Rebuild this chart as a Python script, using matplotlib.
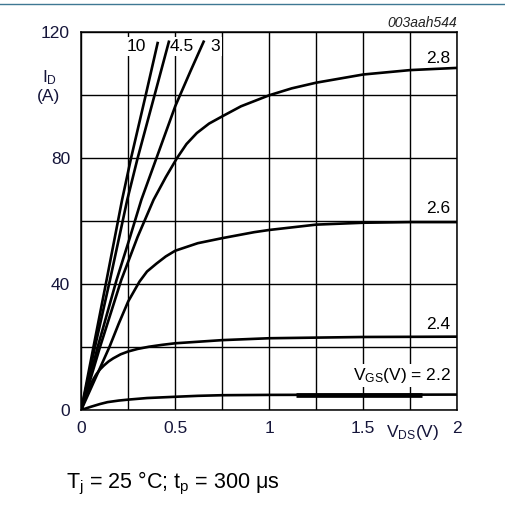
import numpy as np
import matplotlib
matplotlib.use('Agg')
import matplotlib.pyplot as plt
from matplotlib.lines import Line2D

plt.rcParams['font.family'] = ['Liberation Sans', 'DejaVu Sans']
plt.rcParams['mathtext.default'] = 'regular'

# output characteristics, I_D (A) vs V_DS (V)
vds_10 = [0, 0.07, 0.135, 0.2175, 0.265, 0.343, 0.408]
id_10 = [0, 21.5, 41.3, 66.8, 80, 100, 117]

vds_45 = [0, 0.075, 0.153, 0.245, 0.30, 0.39, 0.468]
id_45 = [0, 20.5, 41.3, 66.8, 80, 100, 117.4]

vds_3 = [0, 0.09, 0.188, 0.26, 0.32, 0.40, 0.50, 0.58, 0.654]
id_3 = [0, 20.5, 41.3, 55, 66.8, 80, 96.5, 107.5, 117.4]

vds_28 = [0, 0.1, 0.213, 0.30, 0.385, 0.45, 0.509, 0.56, 0.615, 0.68, 0.75, 0.85, 1.0, 1.12,
          1.25, 1.5, 1.75, 2.0]
id_28 = [0, 20, 41.3, 55, 66.8, 74, 80, 84.5, 88, 91, 93.3, 96.5, 100, 102.2,
         104, 106.6, 108, 108.7]

vds_26 = [0, 0.075, 0.15, 0.2, 0.25, 0.31, 0.35, 0.40, 0.45, 0.5, 0.62, 0.75, 0.92, 1.0, 1.25,
          1.5, 1.75, 2.0]
id_26 = [0, 10, 20, 27.5, 34.5, 40.8, 44, 46.5, 48.8, 50.6, 53, 54.6, 56.5, 57.2, 58.9,
         59.5, 59.7, 59.7]

vds_24 = [0, 0.02, 0.04, 0.06, 0.08, 0.1, 0.12, 0.145, 0.17, 0.21, 0.25, 0.3, 0.36, 0.43, 0.5,
          0.75, 1.0, 1.5, 2.0]
id_24 = [0, 3.5, 6.7, 9.3, 11.3, 12.9, 14.1, 15.4, 16.4, 17.7, 18.6, 19.4, 20.1, 20.7, 21.2,
         22.2, 22.8, 23.2, 23.3]

vds_22 = [0, 0.05, 0.1, 0.14, 0.2, 0.25, 0.35, 0.5, 0.62, 0.75, 1.0, 2.0]
id_22 = [0, 1.0, 1.9, 2.5, 3.0, 3.3, 3.8, 4.2, 4.5, 4.7, 4.8, 4.9]

# heavier stretch drawn on the 2.2 V curve in the original
vds_22_thick = [1.14, 1.81]
id_22_thick = [4.85, 4.85]

curves = [(vds_10, id_10), (vds_45, id_45), (vds_3, id_3), (vds_28, id_28),
          (vds_26, id_26), (vds_24, id_24), (vds_22, id_22)]

x_ticks = [0, 0.25, 0.5, 0.75, 1, 1.25, 1.5, 1.75, 2]
x_ticklabels = ['0', '', '0.5', '', '1', '', '1.5', '', '2']
y_ticks = [0, 20, 40, 60, 80, 100, 120]
y_ticklabels = ['0', '', '40', '', '80', '', '120']

tick_col = '#15153a'
fs = 12.5

fig = plt.figure(figsize=(5.05, 5.09), dpi=100)
ax = fig.add_axes([0.1608, 0.1945, 0.7446, 0.742])

for v, i in curves:
    ax.plot(v, i, color='black', lw=1.9, solid_capstyle='butt', solid_joinstyle='round', zorder=4)
ax.plot(vds_22_thick, id_22_thick, color='black', lw=3.4, solid_capstyle='butt', zorder=4)

ax.set_xlim(0, 2)
ax.set_ylim(0, 120)
ax.set_xticks(x_ticks)
ax.set_xticklabels(x_ticklabels)
ax.set_yticks(y_ticks)
ax.set_yticklabels(y_ticklabels)
ax.tick_params(length=0, labelsize=fs, labelcolor=tick_col)
ax.tick_params(axis='x', pad=8)
ax.tick_params(axis='y', pad=8)
ax.grid(True, color='black', lw=1.0, zorder=1)
ax.set_axisbelow(True)
for s in ax.spines.values():
    s.set_linewidth(1.1)

box = dict(facecolor='white', edgecolor='none', pad=1.5)
ax.text(0.295, 115.4, '10', ha='center', va='center', fontsize=fs, bbox=box, zorder=3)
ax.text(0.536, 115.4, '4.5', ha='center', va='center', fontsize=fs, bbox=box, zorder=3)
ax.text(0.711, 115.4, '3', ha='center', va='center', fontsize=fs, bbox=box, zorder=3)
ax.text(1.965, 111.7, '2.8', ha='right', va='center', fontsize=fs, bbox=box, zorder=3)
ax.text(1.965, 63.9, '2.6', ha='right', va='center', fontsize=fs, bbox=box, zorder=3)
ax.text(1.965, 27.3, '2.4', ha='right', va='center', fontsize=fs, bbox=box, zorder=3)
ax.text(1.965, 11.0, 'V$_{GS}$(V) = 2.2', ha='right', va='center', fontsize=fs, bbox=box, zorder=3)

ax.text(1.76, -7.2, 'V$_{DS}$(V)', ha='center', va='center', fontsize=fs,
        color=tick_col, clip_on=False)
fig.text(50 / 505, 1 - 78 / 509, 'I$_{D}$', ha='center', va='center', fontsize=fs, color=tick_col)
fig.text(48 / 505, 1 - 96 / 509, '(A)', ha='center', va='center', fontsize=fs, color=tick_col)

fig.text(457 / 505, 1 - 22.7 / 509, '003aah544', ha='right', va='center',
         fontsize=10, style='italic', color='#222222')
fig.text(66 / 505, 1 - 483 / 509, 'T$_{j}$ = 25 °C; t$_{p}$ = 300 μs', ha='left', va='center',
         fontsize=15.5, color='black')

fig.add_artist(Line2D([0, 1], [1 - 3.5 / 509, 1 - 3.5 / 509], transform=fig.transFigure,
                      color='#3f7893', lw=1.0))

fig.savefig('out.png', dpi=100)
